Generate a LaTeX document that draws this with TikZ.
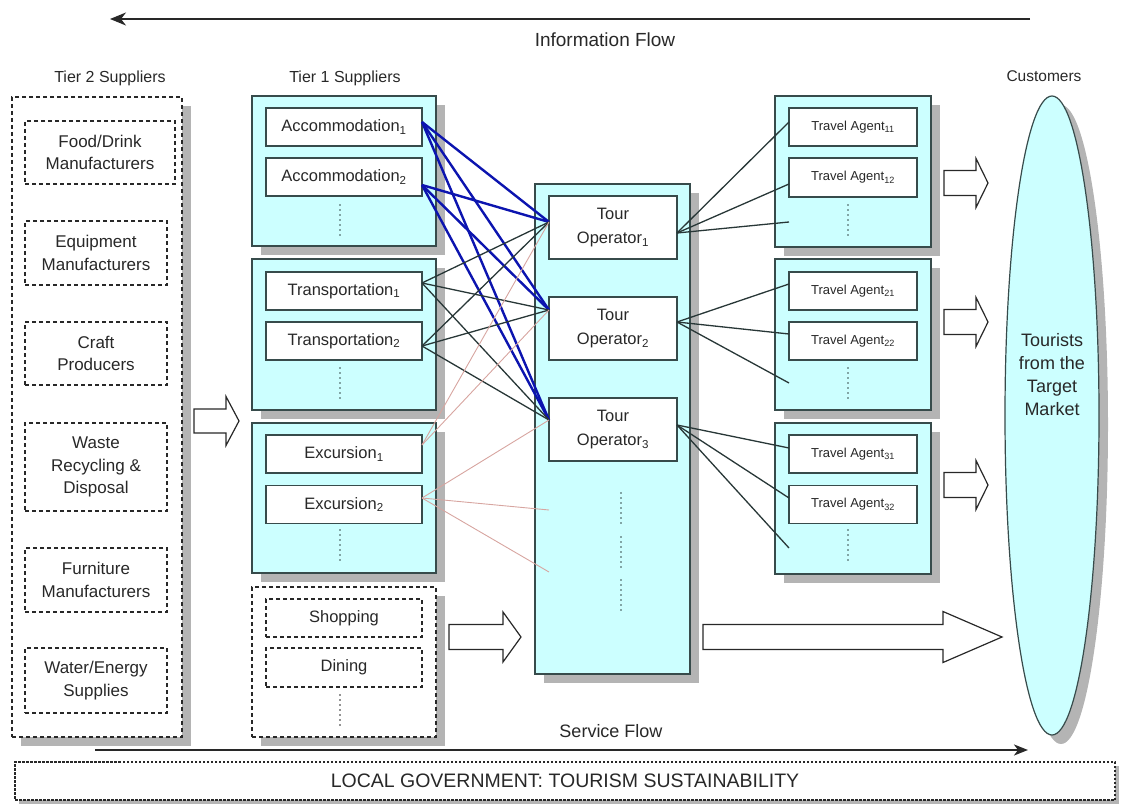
\documentclass[tikz,border=0pt]{standalone}
\usepackage{fontspec}
\setmainfont{Liberation Sans}
\usetikzlibrary{shapes.geometric,shadows,arrows.meta,calc}

\definecolor{panelfill}{RGB}{204,255,255}
\definecolor{edge}{RGB}{55,75,75}
\definecolor{shade}{RGB}{180,180,180}
\definecolor{ink}{RGB}{40,40,40}
\definecolor{linkblue}{RGB}{12,20,175}
\definecolor{linkpink}{RGB}{215,165,160}
\definecolor{linkdark}{RGB}{40,55,55}

% hollow block arrow: start x, head base x, tip x, centre y, body half height, head half height
\newcommand\flowarrow[6]{%
  \draw[blockarrow] (#1,#4-#5) -- (#2,#4-#5) -- (#2,#4-#6) -- (#3,#4)
    -- (#2,#4+#6) -- (#2,#4+#5) -- (#1,#4+#5) -- cycle;}

\begin{document}
\begin{tikzpicture}[x=1pt,y=-1pt,
  every node/.style={inner sep=0pt, outer sep=0pt, text=ink},
  shadowed/.style={general shadow={fill=shade, shadow xshift=9pt, shadow yshift=-9pt}},
  panel/.style={draw=edge, line width=1.2pt, fill=panelfill, shadowed},
  dashpanel/.style={draw=ink, line width=1.1pt, fill=white, dash pattern=on 4pt off 3pt, shadowed},
  item/.style={draw=edge, line width=1.2pt, fill=white, minimum width=156pt, minimum height=38pt,
    font=\fontsize{16.5}{19}\selectfont},
  tier2item/.style={draw=ink, line width=1.1pt, fill=white, dash pattern=on 4pt off 3pt,
    align=center, font=\fontsize{17}{22.5}\selectfont},
  shopitem/.style={item, draw=ink, line width=1.1pt, dash pattern=on 4pt off 3pt},
  agent/.style={draw=edge, line width=1.2pt, fill=white, minimum width=128pt, minimum height=38pt,
    font=\fontsize{13}{15}\selectfont},
  operator/.style={draw=edge, line width=1.2pt, fill=white, minimum width=128pt, minimum height=63pt,
    align=center, font=\fontsize{16.5}{24}\selectfont},
  heading/.style={font=\fontsize{16}{19}\selectfont},
  vdots/.style={draw=edge, line width=1.7pt, line cap=round, dash pattern=on 0pt off 5pt},
  bluelink/.style={draw=linkblue, line width=2.4pt},
  darklink/.style={draw=linkdark, line width=1.3pt},
  pinklink/.style={draw=linkpink, line width=0.9pt},
  blockarrow/.style={draw=ink, line width=1.2pt, fill=white, line join=miter},
  flowline/.style={draw=ink, line width=1.6pt}
]
\useasboundingbox (0,0) rectangle (1122,805);

% ---------- flow arrows and headings ----------
\coordinate (infoR) at (1030,19);
\coordinate (infoL) at (110,19);
\draw[flowline, -{Stealth[length=16pt,width=13pt,inset=5pt]}] (infoR) -- (infoL);
\node[font=\fontsize{19}{22}\selectfont] (infolabel) at (605,40) {Information Flow};

\node[heading] (tier2head) at (110,78) {Tier 2 Suppliers};
\node[heading] (tier1head) at (345,78) {Tier 1 Suppliers};
\node[font=\fontsize{15.5}{18}\selectfont] (custhead) at (1044,76) {Customers};

% ---------- tier 2 suppliers ----------
\node[dashpanel, minimum width=170pt, minimum height=640pt] (t2grp) at (97,417) {};
\node[tier2item, minimum width=150pt, minimum height=63pt] (food) at (100,152.5) {Food/Drink\\Manufacturers};
\node[tier2item, minimum width=142pt, minimum height=64pt] (equip) at (96,253) {Equipment\\Manufacturers};
\node[tier2item, minimum width=142pt, minimum height=63pt] (craft) at (96,353.5) {Craft\\Producers};
\node[tier2item, minimum width=142pt, minimum height=88pt] (waste) at (96,467) {Waste\\Recycling \&\\Disposal};
\node[tier2item, minimum width=142pt, minimum height=64pt] (furn) at (96,580) {Furniture\\Manufacturers};
\node[tier2item, minimum width=142pt, minimum height=65pt] (water) at (96,680.5) {Water/Energy\\Supplies};

\flowarrow{194}{226}{239}{421}{12}{24.5}

% ---------- tier 1 suppliers ----------
\node[panel, minimum width=184pt, minimum height=150pt] (accgrp) at (344,171) {};
\node[item] (acc1) at (344,127) {Accommodation\textsubscript{1}};
\node[item] (acc2) at (344,177) {Accommodation\textsubscript{2}};
\draw[vdots] (340,205) -- (340,235);

\node[panel, minimum width=184pt, minimum height=151pt] (trgrp) at (344,334.5) {};
\node[item] (tr1) at (344,291) {Transportation\textsubscript{1}};
\node[item] (tr2) at (344,341) {Transportation\textsubscript{2}};
\draw[vdots] (340,368) -- (340,398);

\node[panel, minimum width=184pt, minimum height=150pt] (exgrp) at (344,498) {};
\node[item] (ex1) at (344,454) {Excursion\textsubscript{1}};
\node[item] (ex2) at (344,504.5) {Excursion\textsubscript{2}};
\draw[vdots] (340,530) -- (340,562);

\node[dashpanel, minimum width=184pt, minimum height=150pt] (shopgrp) at (344,662) {};
\node[shopitem] (shop) at (344,618) {Shopping};
\node[shopitem, minimum height=39pt] (dine) at (344,667.5) {Dining};
\draw[vdots, draw=ink] (340,695) -- (340,725);

\flowarrow{449}{503}{521}{637}{12.5}{25}

% ---------- tour operators ----------
\node[panel, minimum width=155pt, minimum height=490pt] (tocol) at (612.5,429) {};
\node[operator] (to1) at (613,227.5) {Tour\\Operator\textsubscript{1}};
\node[operator] (to2) at (613,328.5) {Tour\\Operator\textsubscript{2}};
\node[operator] (to3) at (613,429.5) {Tour\\Operator\textsubscript{3}};
\draw[vdots] (621,493) -- (621,523);
\draw[vdots] (621,537) -- (621,567);
\draw[vdots] (621,580) -- (621,610);

% entry and exit points on the operator boxes
\coordinate (to1in) at ([yshift=5.5pt]to1.west);
\coordinate (to2in) at ([yshift=18.5pt]to2.west);
\coordinate (to3in) at ([yshift=9.5pt]to3.west);
\coordinate (colA) at (549,510);
\coordinate (colB) at (549,572);
\coordinate (to1out) at ([yshift=-5.5pt]to1.east);
\coordinate (to2out) at ([yshift=6.5pt]to2.east);
\coordinate (to3out) at ([yshift=4.5pt]to3.east);

% ---------- travel agents ----------
\node[panel, minimum width=156pt, minimum height=151pt] (tagrp1) at (853,171.5) {};
\node[agent] (ta11) at (853,127) {Travel Agent\textsubscript{11}};
\node[agent, minimum height=39pt] (ta12) at (853,177.5) {Travel Agent\textsubscript{12}};
\draw[vdots] (848,205) -- (848,235);

\node[panel, minimum width=156pt, minimum height=151pt] (tagrp2) at (853,334.5) {};
\node[agent] (ta21) at (853,291) {Travel Agent\textsubscript{21}};
\node[agent] (ta22) at (853,341) {Travel Agent\textsubscript{22}};
\draw[vdots] (848,368) -- (848,398);

\node[panel, minimum width=156pt, minimum height=151pt] (tagrp3) at (853,498.5) {};
\node[agent] (ta31) at (853,454) {Travel Agent\textsubscript{31}};
\node[agent] (ta32) at (853,504.5) {Travel Agent\textsubscript{32}};
\draw[vdots] (848,530) -- (848,562);

\coordinate (ta1more) at (789,222);
\coordinate (ta2more) at (789,383);
\coordinate (ta3more) at (789,548);

\flowarrow{944}{976}{988}{183}{12.5}{24.5}
\flowarrow{944}{976}{988}{322}{12.5}{24.5}
\flowarrow{944}{976}{988}{485}{12.5}{24.5}
\flowarrow{703}{943}{1002}{637}{12.5}{25.5}

% ---------- customers ----------
\node[ellipse, draw=edge, line width=1.2pt, fill=panelfill, shadowed,
      minimum width=94pt, minimum height=639pt] (market) at (1052,415.5) {};
\node[align=center, font=\fontsize{18}{23}\selectfont] (tourists) at (1052,375)
  {Tourists\\from the\\Target\\Market};

% ---------- supplier to operator links ----------
\foreach \t in {to1in,to2in,to3in}{
  \draw[bluelink] ([yshift=5pt]acc1.east) -- (\t);
  \draw[bluelink] ([yshift=-8pt]acc2.east) -- (\t);
}
\foreach \t in {to1in,to2in,to3in}{
  \draw[darklink] ([yshift=8pt]tr1.east) -- (\t);
  \draw[darklink] ([yshift=-5pt]tr2.east) -- (\t);
}
\draw[pinklink] ([yshift=9pt]ex1.east) -- (to1in);
\draw[pinklink] ([yshift=9pt]ex1.east) -- (to2in);
\draw[pinklink] ([yshift=6.5pt]ex2.east) -- (to3in);
\draw[pinklink] ([yshift=6.5pt]ex2.east) -- (colA);
\draw[pinklink] ([yshift=6.5pt]ex2.east) -- (colB);

% ---------- operator to agent links ----------
\draw[darklink] (to1out) -- ([yshift=5pt]ta11.west);
\draw[darklink] (to1out) -- ([yshift=-6.5pt]ta12.west);
\draw[darklink] (to1out) -- (ta1more);
\draw[darklink] (to2out) -- ([yshift=7pt]ta21.west);
\draw[darklink] (to2out) -- ([yshift=7pt]ta22.west);
\draw[darklink] (to2out) -- (ta2more);
\draw[darklink] (to3out) -- ([yshift=6pt]ta31.west);
\draw[darklink] (to3out) -- ([yshift=6.5pt]ta32.west);
\draw[darklink] (to3out) -- (ta3more);

% ---------- service flow and government band ----------
\coordinate (servL) at (95,750);
\coordinate (servR) at (1028,750);
\draw[flowline, line width=2pt, -{Stealth[length=14pt,width=11pt,inset=4pt]}] (servL) -- (servR);
\node[font=\fontsize{18}{21}\selectfont] (servlabel) at (611,731) {Service Flow};

\node[draw=ink, line width=1.1pt, fill=white, dash pattern=on 2.5pt off 1.5pt,
      general shadow={fill=shade, shadow xshift=4pt, shadow yshift=-4pt},
      minimum width=1100pt, minimum height=38pt,
      font=\fontsize{19.5}{22}\selectfont] (gov) at (565,781) {LOCAL GOVERNMENT: TOURISM SUSTAINABILITY};
\end{tikzpicture}
\end{document}
